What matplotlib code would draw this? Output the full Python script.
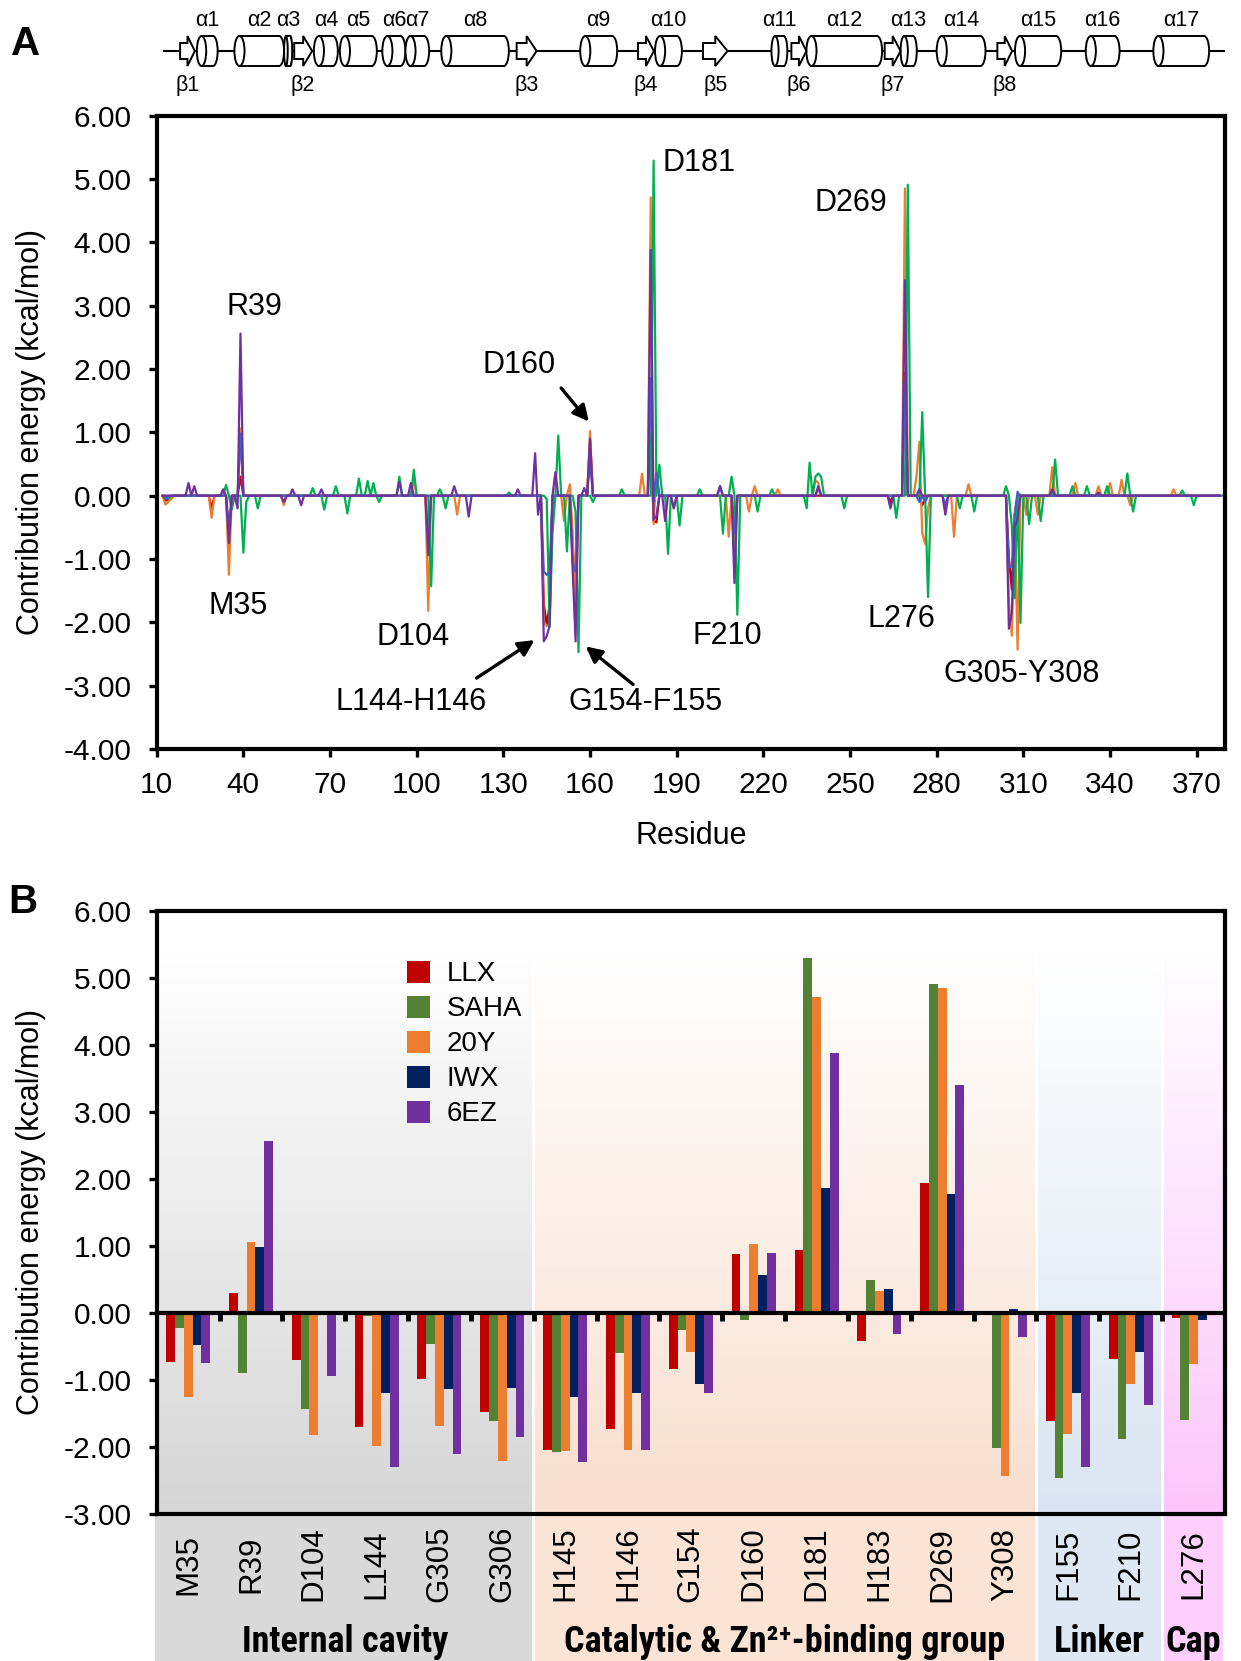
import numpy as np
import matplotlib
matplotlib.use("Agg")
import matplotlib.pyplot as plt
import matplotlib.transforms as mtransforms
from matplotlib import font_manager
from matplotlib.patches import Rectangle, Ellipse, Polygon, Patch
from matplotlib.colors import LinearSegmentedColormap
from matplotlib.ticker import FormatStrFormatter

# ---------------- panel B: selected residues (kcal/mol) ----------------
residues = ["M35", "R39", "D104", "L144", "G305", "G306",
            "H145", "H146", "G154", "D160", "D181", "H183", "D269", "Y308",
            "F155", "F210", "L276"]
llx = [-0.74, 0.30, -0.71, -1.70, -0.99, -1.48, -2.04, -1.73, -0.83,
       0.88, 0.94, -0.42, 1.94, 0.01, -1.61, -0.69, -0.07]
saha = [-0.22, -0.90, -1.43, -0.05, -0.47, -1.62, -2.07, -0.60, -0.26,
        -0.10, 5.29, 0.49, 4.91, -2.01, -2.47, -1.88, -1.60]
y20 = [-1.25, 1.06, -1.82, -1.99, -1.68, -2.21, -2.06, -2.05, -0.59,
       1.02, 4.71, 0.33, 4.85, -2.43, -1.80, -1.06, -0.76]
iwx = [-0.48, 0.98, 0.00, -1.20, -1.13, -1.12, -1.25, -1.20, -1.06,
       0.56, 1.86, 0.36, 1.78, 0.06, -1.20, -0.59, -0.10]
ez6 = [-0.75, 2.56, -0.94, -2.30, -2.10, -1.85, -2.22, -2.05, -1.19,
       0.90, 3.88, -0.32, 3.40, -0.36, -2.30, -1.38, 0.00]
ligands = ["LLX", "SAHA", "20Y", "IWX", "6EZ"]

groups = ["Internal cavity", "Catalytic & Zn²⁺-binding group", "Linker", "Cap"]
group_sizes = [6, 8, 2, 1]

# ---------------- panel A: whole chain, residues 12-378 ----------------
first_res, last_res = 12, 378
# other residues with a visible contribution, (residue, energy)
llx_extra = [(13, -0.08), (14, -0.06), (15, -0.04), (29, -0.20), (182, -0.40),
             (264, -0.10), (275, -0.15), (307, -0.30)]
saha_extra = [(13, -0.05), (33, 0.17), (40, -0.10), (44, -0.20), (63, 0.12),
              (67, -0.22), (71, 0.15), (75, -0.28), (79, 0.27), (82, 0.23),
              (84, 0.20), (86, -0.10), (93, 0.30), (98, 0.41), (107, 0.10),
              (109, -0.20), (131, 0.05), (148, 0.95), (151, -0.88), (170, 0.10),
              (186, -0.92), (190, -0.47), (197, 0.10), (205, -0.60), (208, 0.30),
              (217, -0.25), (222, 0.10), (234, -0.20), (235, 0.52), (237, 0.30),
              (238, 0.35), (239, 0.30), (247, -0.20), (265, -0.35), (274, 1.32),
              (287, -0.20), (292, -0.25), (303, 0.15), (311, -0.45), (315, -0.40),
              (320, 0.57), (326, 0.15), (331, 0.15), (338, 0.15), (345, 0.35),
              (347, -0.25), (364, 0.08), (368, -0.15)]
y20_extra = [(13, -0.14), (14, -0.10), (15, -0.05), (29, -0.35), (54, -0.15),
             (99, 0.25), (114, -0.30), (151, -0.40), (153, 0.18), (178, 0.35),
             (182, -0.45), (189, -0.20), (208, -0.65), (215, -0.25), (217, 0.15),
             (225, 0.10), (238, 0.25), (239, 0.20), (273, 0.30), (274, 0.85),
             (275, -0.60), (277, -0.20), (286, -0.65), (291, 0.18), (307, -0.40),
             (311, -0.30), (315, -0.30), (320, 0.45), (328, 0.20), (336, 0.15),
             (340, 0.20), (344, 0.25), (347, -0.15), (362, 0.10)]
iwx_extra = [(13, -0.05), (182, -0.10), (205, 0.15), (239, 0.12), (274, -0.10),
             (283, -0.15), (307, -0.30)]
ez6_extra = [(21, 0.20), (23, 0.15), (33, 0.10), (38, -0.20), (54, -0.10),
             (57, 0.10), (60, -0.15), (67, 0.10), (94, 0.22), (98, 0.20),
             (113, 0.15), (118, -0.33), (135, 0.10), (141, 0.67), (142, -0.30),
             (148, 0.37), (158, 0.12), (182, -0.38), (186, -0.40), (189, -0.20),
             (205, 0.15), (239, 0.15), (264, -0.20), (274, 0.10), (283, -0.30),
             (307, -0.50), (320, 0.10), (336, 0.05)]
# SAHA trace sits one residue to the right in the profile
saha_shift = 1

# secondary structure (start, end residue)
helices = [("α1", 23.9, 31.1), ("α2", 36.9, 54.1), ("α3", 54.1, 56.9),
           ("α4", 64.4, 72.7), ("α5", 73.4, 86.2), ("α6", 88.1, 96.1),
           ("α7", 96.1, 104.3), ("α8", 108.5, 131.9), ("α9", 156.6, 169.4),
           ("α10", 182.5, 191.8), ("α11", 222.8, 228.3), ("α12", 234.9, 261.1),
           ("α13", 267.5, 273.1), ("α14", 280.0, 296.9), ("α15", 307.1, 323.1),
           ("α16", 331.6, 343.3), ("α17", 355.0, 374.3)]
strands = [("β1", 18.1, 23.2), ("β2", 57.6, 63.8), ("β3", 134.6, 141.5),
           ("β4", 176.6, 182.1), ("β5", 199.1, 207.6), ("β6", 229.7, 234.9),
           ("β7", 262.0, 267.5), ("β8", 301.0, 306.1)]
chain_span = (12.6, 379.6)

bar_colors = ["#c00000", "#548235", "#ed7d31", "#002060", "#7030a0"]
line_colors = ["#c00000", "#00b050", "#ed7d31", "#4062c0", "#7030a0"]
group_colors = ["#d6d6d6", "#f9dfcf", "#d9e5f2", "#fbc6fb"]
band_colors = ["#d9d9d9", "#fbe4d5", "#dde8f4", "#fccffc"]

# ---------------- fonts ----------------
installed = {f.name for f in font_manager.fontManager.ttflist}
narrow = next((f for f in ["Liberation Sans Narrow", "DejaVu Sans Condensed",
                           "Roboto Condensed", "Open Sans Condensed"] if f in installed),
              "Liberation Sans")
group_fs = 26 if narrow != "Liberation Sans" else 23
plt.rcParams["font.family"] = ["Liberation Sans", "DejaVu Sans"]
plt.rcParams["axes.unicode_minus"] = False

W, H = 1241, 1661
fig = plt.figure(figsize=(W / 100, H / 100), dpi=100)


def box(left, top, right, bottom):
    return [left / W, 1 - bottom / H, (right - left) / W, (bottom - top) / H]


ax_ss = fig.add_axes(box(156.7, 0, 1225, 110))
ax_a = fig.add_axes(box(156.7, 115.7, 1225, 749))
ax_b = fig.add_axes(box(156.7, 910.6, 1225, 1514))
xlim_a = (10, 379.8)

# ---------------- secondary structure strip ----------------
yc, hh, body, head = 51, 30, 16, 30
ax_ss.plot(chain_span, [yc, yc], color="black", lw=1.5, zorder=1)
for name, s, e in helices:
    ew = min(3.5, 0.45 * (e - s))
    ax_ss.add_patch(Ellipse((e - ew / 2, yc), ew, hh, fc="white", ec="black", lw=1.4, zorder=2))
    ax_ss.add_patch(Rectangle((s + ew / 2, yc - hh / 2), e - s - ew, hh, fc="white", ec="none", zorder=3))
    ax_ss.plot([s + ew / 2, e - ew / 2], [yc - hh / 2] * 2, color="black", lw=1.4, zorder=4)
    ax_ss.plot([s + ew / 2, e - ew / 2], [yc + hh / 2] * 2, color="black", lw=1.4, zorder=4)
    ax_ss.add_patch(Ellipse((s + ew / 2, yc), ew, hh, fc="white", ec="black", lw=1.4, zorder=5))
    ax_ss.text((s + e) / 2, 20, name, ha="center", va="center", fontsize=15.5)
for name, s, e in strands:
    m = s + 0.5 * (e - s)
    pts = [(s, yc - body / 2), (m, yc - body / 2), (m, yc - head / 2), (e, yc),
           (m, yc + head / 2), (m, yc + body / 2), (s, yc + body / 2)]
    ax_ss.add_patch(Polygon(pts, closed=True, fc="white", ec="black", lw=1.4, zorder=6))
    ax_ss.text((s + e) / 2, 86, name, ha="center", va="center", fontsize=15.5)
ax_ss.set_xlim(*xlim_a)
ax_ss.set_ylim(110, 0)
ax_ss.axis("off")


# ---------------- panel A ----------------
def trace(bar_vals, extra, shift=0):
    x = np.arange(first_res, last_res + 1)
    y = np.zeros(len(x))
    for name, v in zip(residues, bar_vals):
        y[int(name[1:]) - first_res] = v
    for r, v in extra:
        y[r - first_res] = v
    return x + shift, y


series = [trace(llx, llx_extra), trace(y20, y20_extra),
          trace(saha, saha_extra, saha_shift), trace(iwx, iwx_extra),
          trace(ez6, ez6_extra)]
order_colors = [line_colors[0], line_colors[2], line_colors[1], line_colors[3], line_colors[4]]
for (x, y), c in zip(series, order_colors):
    ax_a.plot(x, y, color=c, lw=1.6)

ax_a.set_xlim(*xlim_a)
ax_a.set_ylim(-4, 6)
ax_a.set_xticks(np.arange(10, 371, 30))
ax_a.set_yticks(np.arange(-4, 7, 1))
ax_a.yaxis.set_major_formatter(FormatStrFormatter("%.2f"))
ax_a.tick_params(direction="out", length=6, width=2.4, labelsize=21.5)
ax_a.tick_params(axis="y", pad=12)
ax_a.tick_params(axis="x", pad=10)
for sp in ax_a.spines.values():
    sp.set_linewidth(3)
ax_a.set_xlabel("Residue", fontsize=22)
ax_a.xaxis.set_label_coords(0.5, -0.113)
ax_a.set_ylabel("Contribution energy (kcal/mol)", fontsize=22)
ax_a.yaxis.set_label_coords(-0.104, 0.5)

fs = 22
ax_a.text(43.7, 2.98, "R39", ha="center", va="center", fontsize=fs)
ax_a.text(38.2, -1.74, "M35", ha="center", va="center", fontsize=fs)
ax_a.text(98.7, -2.23, "D104", ha="center", va="center", fontsize=fs)
ax_a.text(135.4, 2.06, "D160", ha="center", va="center", fontsize=fs)
ax_a.text(185.1, 5.25, "D181", ha="left", va="center", fontsize=fs)
ax_a.text(237.8, 4.62, "D269", ha="left", va="center", fontsize=fs)
ax_a.text(98.0, -3.26, "L144-H146", ha="center", va="center", fontsize=fs)
ax_a.text(179.3, -3.26, "G154-F155", ha="center", va="center", fontsize=fs)
ax_a.text(207.4, -2.21, "F210", ha="center", va="center", fontsize=fs)
ax_a.text(267.8, -1.94, "L276", ha="center", va="center", fontsize=fs)
ax_a.text(309.5, -2.82, "G305-Y308", ha="center", va="center", fontsize=fs)

arrow = dict(arrowstyle="-|>", color="black", lw=2.4, mutation_scale=24,
             shrinkA=0, shrinkB=0)
ax_a.annotate("", xy=(159.6, 1.17), xytext=(150.0, 1.70), arrowprops=arrow)
ax_a.annotate("", xy=(140.8, -2.28), xytext=(120.7, -2.88), arrowprops=arrow)
ax_a.annotate("", xy=(158.5, -2.38), xytext=(174.9, -2.98), arrowprops=arrow)

# ---------------- panel B ----------------
n = len(residues)
xpos = np.arange(n)
edges = np.cumsum([0] + group_sizes) - 0.5
gap = 0.025
for x0, x1, col in zip(edges[:-1], edges[1:], group_colors):
    cmap = LinearSegmentedColormap.from_list("fade", ["white", col])
    ax_b.imshow(np.linspace(1, 0, 256)[:, None], cmap=cmap, aspect="auto",
                extent=(x0 + gap, x1 - gap, -3, 5.4), origin="lower",
                vmin=0, vmax=1, zorder=0)

bw = 0.14
for i, (vals, c) in enumerate(zip([llx, saha, y20, iwx, ez6], bar_colors)):
    ax_b.bar(xpos + (i - 2) * bw, vals, width=bw, color=c, label=ligands[i], zorder=2)

ax_b.axhline(0, color="black", lw=3, zorder=3)
ax_b.vlines(np.arange(0.5, n - 0.5), -0.12, 0, color="black", lw=3.5, zorder=3)

ax_b.set_xlim(-0.5, n - 0.5)
ax_b.set_ylim(-3, 6)
ax_b.set_xticks([])
ax_b.set_yticks(np.arange(-3, 7, 1))
ax_b.yaxis.set_major_formatter(FormatStrFormatter("%.2f"))
ax_b.tick_params(axis="y", direction="out", length=6, width=2.4, labelsize=21.5, pad=12)
for sp in ax_b.spines.values():
    sp.set_linewidth(3)
    sp.set_zorder(4)
ax_b.set_ylabel("Contribution energy (kcal/mol)", fontsize=22)
ax_b.yaxis.set_label_coords(-0.104, 0.5)

handles = [Patch(facecolor=c, edgecolor="none", label=l) for c, l in zip(bar_colors, ligands)]
ax_b.legend(handles=handles, loc="upper left", bbox_to_anchor=(0.234, 0.917),
            frameon=False, fontsize=20, handlelength=0.85, handleheight=0.85,
            handletextpad=0.6, labelspacing=0.3, borderaxespad=0, borderpad=0)

# residue names and group bands below the axis
blend = mtransforms.blended_transform_factory(ax_b.transData, ax_b.transAxes)
for k, (x0, x1, col) in enumerate(zip(edges[:-1], edges[1:], band_colors)):
    left = x0 - 0.03 if k == 0 else x0 + gap
    ax_b.add_patch(Rectangle((left, -0.26), (x1 - gap) - left, 0.26, transform=blend,
                             fc=col, ec="none", clip_on=False, zorder=0))
    ax_b.text((x0 + x1) / 2, -0.212, groups[k], transform=blend, ha="center", va="center",
              fontsize=group_fs, fontweight="bold", family=[narrow, "DejaVu Sans"])
for x, name in zip(xpos, residues):
    ax_b.text(x, -0.083, name, transform=blend, rotation=90, ha="center", va="center",
              fontsize=22.5)

fig.text(26 / W, 1 - 44 / H, "A", fontsize=29, fontweight="bold", ha="center", va="center")
fig.text(23 / W, 1 - 902 / H, "B", fontsize=29, fontweight="bold", ha="center", va="center")

fig.savefig("out.png", dpi=100)
